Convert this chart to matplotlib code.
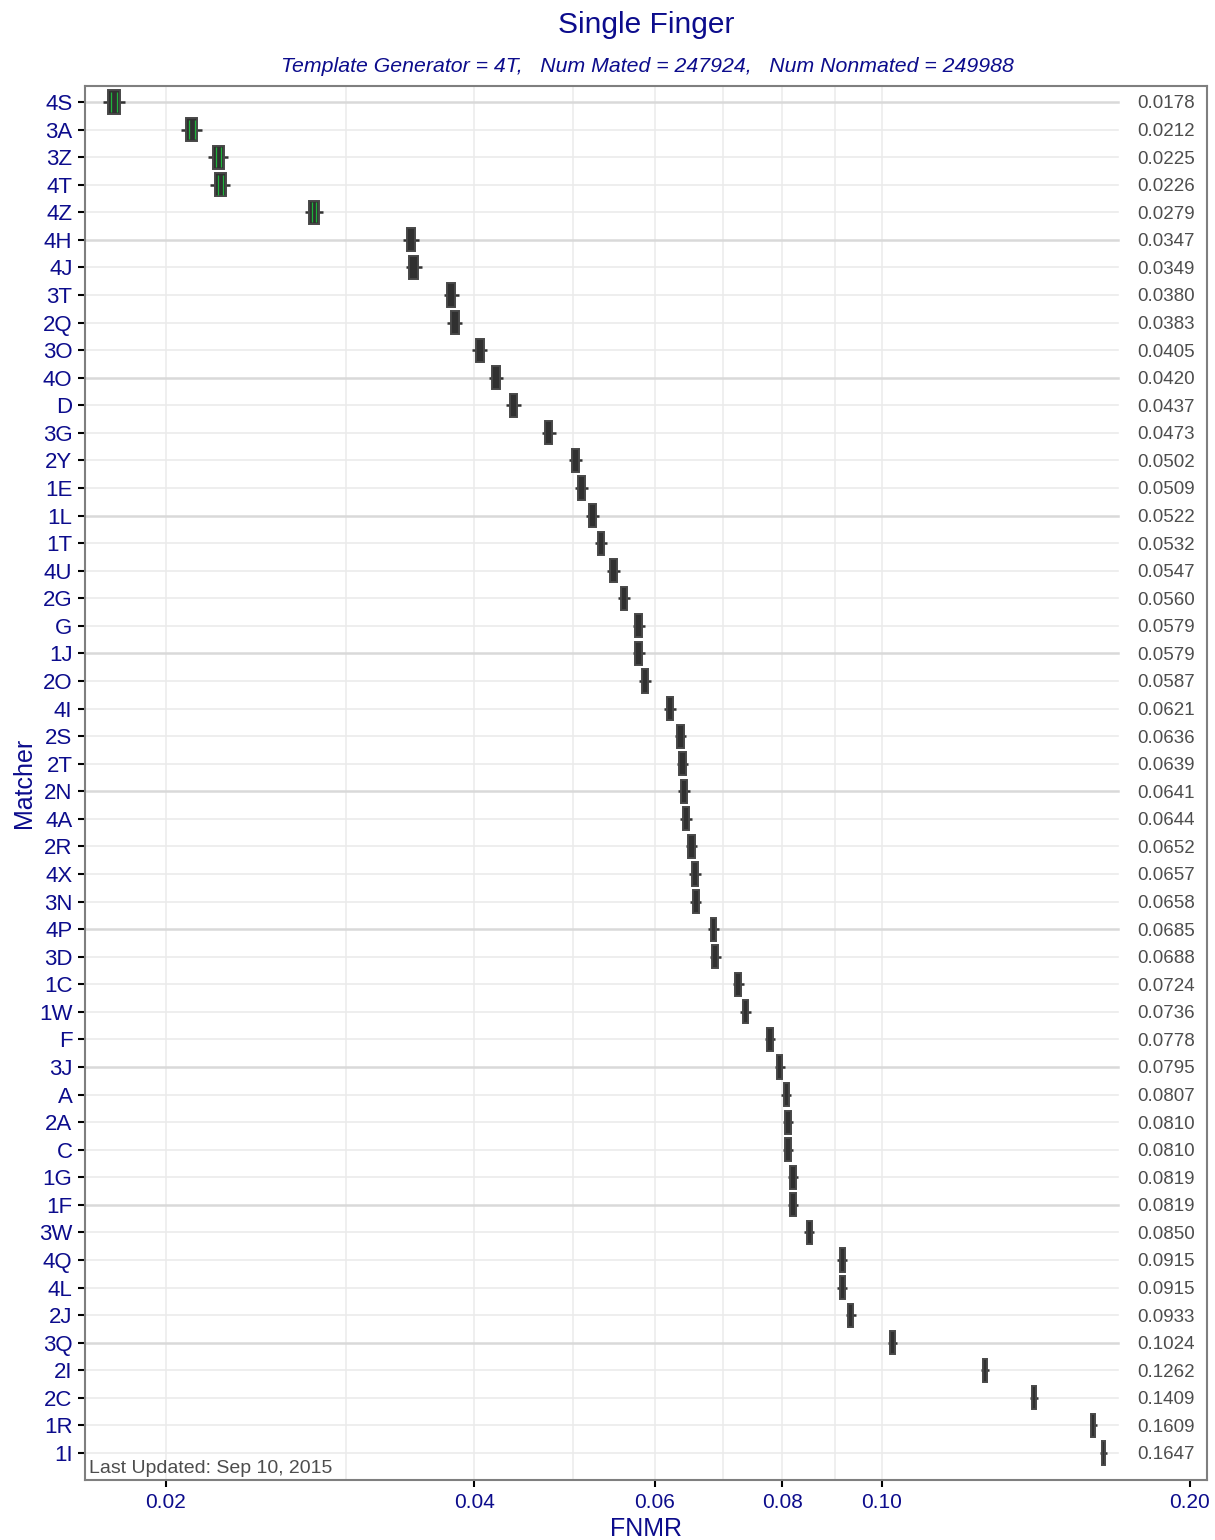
import numpy as np
import matplotlib.pyplot as plt

plt.rcParams['font.family'] = ['Liberation Sans', 'DejaVu Sans']

# Данные: матчеры сверху вниз и их FNMR
matchers = ['4S', '3A', '3Z', '4T', '4Z', '4H', '4J', '3T', '2Q', '3O',
            '4O', 'D', '3G', '2Y', '1E', '1L', '1T', '4U', '2G', 'G',
            '1J', '2O', '4I', '2S', '2T', '2N', '4A', '2R', '4X', '3N',
            '4P', '3D', '1C', '1W', 'F', '3J', 'A', '2A', 'C', '1G',
            '1F', '3W', '4Q', '4L', '2J', '3Q', '2I', '2C', '1R', '1I']
fnmr = [0.0178, 0.0212, 0.0225, 0.0226, 0.0279, 0.0347, 0.0349, 0.0380, 0.0383, 0.0405,
        0.0420, 0.0437, 0.0473, 0.0502, 0.0509, 0.0522, 0.0532, 0.0547, 0.0560, 0.0579,
        0.0579, 0.0587, 0.0621, 0.0636, 0.0639, 0.0641, 0.0644, 0.0652, 0.0657, 0.0658,
        0.0685, 0.0688, 0.0724, 0.0736, 0.0778, 0.0795, 0.0807, 0.0810, 0.0810, 0.0819,
        0.0819, 0.0850, 0.0915, 0.0915, 0.0933, 0.1024, 0.1262, 0.1409, 0.1609, 0.1647]
highlighted = ['4S', '3A', '3Z', '4T', '4Z']
n_mated = 247924
n_nonmated = 249988

x_ticks = [0.02, 0.04, 0.06, 0.08, 0.10, 0.20]
x_tick_labels = ['0.02', '0.04', '0.06', '0.08', '0.10', '0.20']
x_grid = [0.02, 0.03, 0.04, 0.05, 0.06, 0.07, 0.08, 0.09, 0.10]

blue = '#0c0c8c'
p = np.array(fnmr)
y = np.arange(len(matchers))
# биномиальная неопределённость для ширины "коробок"
sigma = np.sqrt(p * (1 - p) / n_mated)

fig = plt.figure(figsize=(12.15, 15.4), dpi=100)
ax = fig.add_axes([85 / 1215, 1 - 1480 / 1540, 1122 / 1215, 1394 / 1540])
ax.set_xscale('log')
ax.set_xlim(0.01667, 0.2078)
ax.set_ylim(len(matchers) - 1 + 0.98, -0.58)

# сетка
for gx in x_grid:
    ax.axvline(gx, color='#ebebeb', lw=1.1, zorder=0)
for i in y:
    if i % 5 == 0:
        ax.axhline(i, xmin=0, xmax=0.9207, color='#d9d9d9', lw=1.8, zorder=0)
    else:
        ax.axhline(i, xmin=0, xmax=0.9207, color='#ebebeb', lw=1.2, zorder=0)

# усы и коробки
ax.hlines(y, p - 1.7 * sigma, p + 1.7 * sigma, color='#333333', lw=1.8, zorder=2)
ax.barh(y, 1.8 * sigma, left=p - 0.9 * sigma, height=0.84, color='#303030',
        edgecolor='#474747', linewidth=1.4, zorder=3)
for i, m in enumerate(matchers):
    if m in highlighted:
        ax.vlines([p[i] - 0.45 * sigma[i], p[i] + 0.45 * sigma[i]], i - 0.36, i + 0.36,
                  color='#1fb43c', lw=0.9, zorder=4)

# значения справа
for i, v in enumerate(fnmr):
    ax.text(0.989, i, f'{v:.4f}', transform=ax.get_yaxis_transform(),
            ha='right', va='center_baseline', fontsize=13.5, color='#4d4d4d')

ax.text(0.004, len(matchers) - 1 + 0.58, 'Last Updated: Sep 10, 2015',
        transform=ax.get_yaxis_transform(), ha='left', va='center',
        fontsize=14, color='#4d4d4d')

ax.set_yticks(y)
ax.set_yticklabels(matchers, fontsize=16, color=blue, va='center_baseline')
ax.set_xticks(x_ticks)
ax.set_xticklabels(x_tick_labels, fontsize=15, color=blue)
ax.minorticks_off()
ax.tick_params(axis='both', length=5, width=1.5, color='black')
ax.tick_params(axis='x', pad=4)
ax.tick_params(axis='y', pad=4)
for s in ax.spines.values():
    s.set_color('#7f7f7f')
    s.set_linewidth(1.5)

ax.set_xlabel('FNMR', fontsize=18, color=blue, labelpad=4)
ax.set_ylabel('Matcher', fontsize=18, color=blue, labelpad=2)

fig.text(646 / 1215, 1 - 25 / 1540, 'Single Finger', ha='center', va='center',
         fontsize=21.5, color=blue)
fig.text(647 / 1215, 1 - 67 / 1540,
         f'Template Generator = 4T,   Num Mated = {n_mated},   Num Nonmated = {n_nonmated}',
         ha='center', va='center', fontsize=15.3, style='italic', color=blue)

fig.savefig('out.png', dpi=100)
